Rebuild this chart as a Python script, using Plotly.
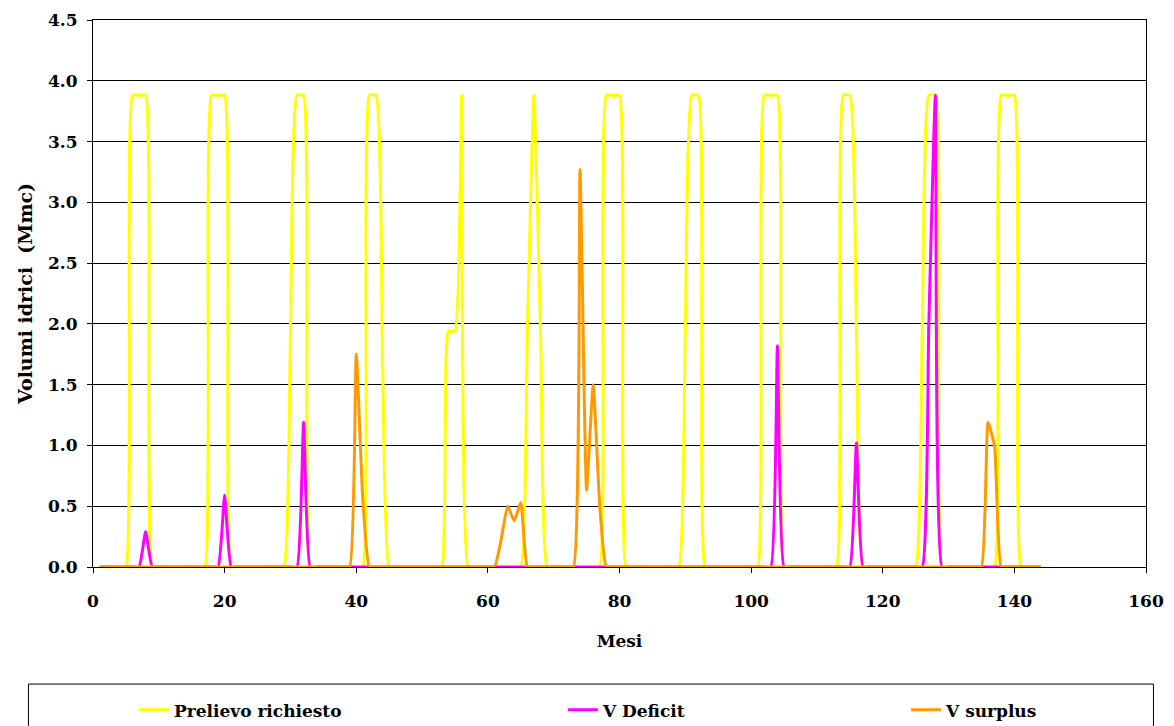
import plotly.graph_objects as go

# Monthly volumes (Mmc), one row per year, months 1..144
mesi = list(range(1, 145))

prelievo_richiesto = [
    0, 0, 0, 0, 0, 3.88, 3.88, 3.88, 0, 0, 0, 0,
    0, 0, 0, 0, 0, 3.88, 3.88, 3.88, 0, 0, 0, 0,
    0, 0, 0, 0, 0, 1.94, 3.88, 3.88, 0, 0, 0, 0,
    0, 0, 0, 0, 0, 3.88, 3.88, 1.70, 0, 0, 0, 0,
    0, 0, 0, 0, 0, 1.94, 1.94, 3.88, 0, 0, 0, 0,
    0, 0, 0, 0, 0, 1.94, 3.88, 1.94, 0, 0, 0, 0,
    0, 0, 0, 0, 0, 3.88, 3.88, 3.88, 0, 0, 0, 0,
    0, 0, 0, 0, 0, 1.94, 3.88, 3.88, 0, 0, 0, 0,
    0, 0, 0, 0, 0, 3.88, 3.88, 3.88, 0, 0, 0, 0,
    0, 0, 0, 0, 0, 3.88, 3.88, 1.94, 0, 0, 0, 0,
    0, 0, 0, 0, 0, 1.94, 3.88, 3.88, 0, 0, 0, 0,
    0, 0, 0, 0, 0, 3.88, 3.88, 3.88, 0, 0, 0, 0,
]

v_deficit = [
    0, 0, 0, 0, 0, 0, 0, 0.29, 0, 0, 0, 0,
    0, 0, 0, 0, 0, 0, 0, 0.59, 0, 0, 0, 0,
    0, 0, 0, 0, 0, 0, 0, 1.19, 0, 0, 0, 0,
    0, 0, 0, 0, 0, 0, 0, 0, 0, 0, 0, 0,
    0, 0, 0, 0, 0, 0, 0, 0, 0, 0, 0, 0,
    0, 0, 0, 0, 0, 0, 0, 0, 0, 0, 0, 0,
    0, 0, 0, 0, 0, 0, 0, 0, 0, 0, 0, 0,
    0, 0, 0, 0, 0, 0, 0, 0, 0, 0, 0, 0,
    0, 0, 0, 0, 0, 0, 0, 1.82, 0, 0, 0, 0,
    0, 0, 0, 0, 0, 0, 0, 1.02, 0, 0, 0, 0,
    0, 0, 0, 0, 0, 0, 2.00, 3.88, 0, 0, 0, 0,
    0, 0, 0, 0, 0, 0, 0, 0, 0, 0, 0, 0,
]

v_surplus = [
    0, 0, 0, 0, 0, 0, 0, 0, 0, 0, 0, 0,
    0, 0, 0, 0, 0, 0, 0, 0, 0, 0, 0, 0,
    0, 0, 0, 0, 0, 0, 0, 0, 0, 0, 0, 0,
    0, 0, 0, 1.75, 0.55, 0, 0, 0, 0, 0, 0, 0,
    0, 0, 0, 0, 0, 0, 0, 0, 0, 0, 0, 0,
    0, 0.22, 0.50, 0.38, 0.53, 0, 0, 0, 0, 0, 0, 0,
    0, 3.27, 0.63, 1.50, 0.50, 0, 0, 0, 0, 0, 0, 0,
    0, 0, 0, 0, 0, 0, 0, 0, 0, 0, 0, 0,
    0, 0, 0, 0, 0, 0, 0, 0, 0, 0, 0, 0,
    0, 0, 0, 0, 0, 0, 0, 0, 0, 0, 0, 0,
    0, 0, 0, 0, 0, 0, 0, 0, 0, 0, 0, 0,
    0, 0, 0, 1.19, 0.99, 0, 0, 0, 0, 0, 0, 0,
]

y_ticks = [0, 0.5, 1.0, 1.5, 2.0, 2.5, 3.0, 3.5, 4.0, 4.5]
x_ticks = [0, 20, 40, 60, 80, 100, 120, 140, 160]

FONT = "DejaVu Serif"
tick_font = dict(family=FONT, size=17, color="black", weight="bold")

series = [
    ("Prelievo richiesto", prelievo_richiesto, "#FFFF00", "legend"),
    ("V Deficit", v_deficit, "#FF00FF", "legend2"),
    ("V surplus", v_surplus, "#FF9900", "legend3"),
]

fig = go.Figure()
for name, values, color, leg in series:
    fig.add_trace(go.Scatter(
        x=mesi, y=values, name=name, mode="lines",
        line=dict(color=color, width=3, shape="spline", smoothing=0.45),
        legend=leg,
    ))

# legend entries laid out along one framed row under the plot
legend_common = dict(
    orientation="h", yanchor="middle", xanchor="left", y=-0.262,
    font=dict(family=FONT, size=17, color="black", weight="bold"),
    bgcolor="rgba(0,0,0,0)", borderwidth=0,
)

fig.update_layout(
    width=1174, height=726,
    margin=dict(l=93, r=28, t=20, b=159, autoexpand=False),
    paper_bgcolor="white", plot_bgcolor="white",
    showlegend=True,
    legend=dict(x=0.0389, **legend_common),
    legend2=dict(x=0.4463, **legend_common),
    legend3=dict(x=0.7721, **legend_common),
    xaxis=dict(
        range=[0, 160], tickvals=x_ticks, ticktext=[str(v) for v in x_ticks],
        showgrid=False, zeroline=False,
        showline=True, linecolor="black", linewidth=1, mirror=True,
        ticks="outside", ticklen=5, tickcolor="black",
        tickfont=tick_font, ticklabelstandoff=14,
        title=dict(text="Mesi", font=dict(family=FONT, size=17, color="black", weight="bold"), standoff=24),
    ),
    yaxis=dict(
        range=[0, 4.5], tickvals=y_ticks, ticktext=[f"{v:.1f}" for v in y_ticks],
        showgrid=True, gridcolor="black", gridwidth=1, zeroline=False,
        showline=True, linecolor="black", linewidth=1, mirror=True,
        ticks="outside", ticklen=5, tickcolor="black",
        tickfont=tick_font, ticklabelstandoff=6,
        title=dict(text="Volumi idrici  (Mmc)", font=dict(family=FONT, size=19, color="black", weight="bold"), standoff=10),
    ),
    shapes=[dict(
        type="rect", xref="paper", yref="paper",
        x0=-0.0613, x1=1.0071, y0=-0.214, y1=-0.40,
        line=dict(color="black", width=1), fillcolor="rgba(0,0,0,0)", layer="below",
    )],
)

fig.write_html("out.html")
